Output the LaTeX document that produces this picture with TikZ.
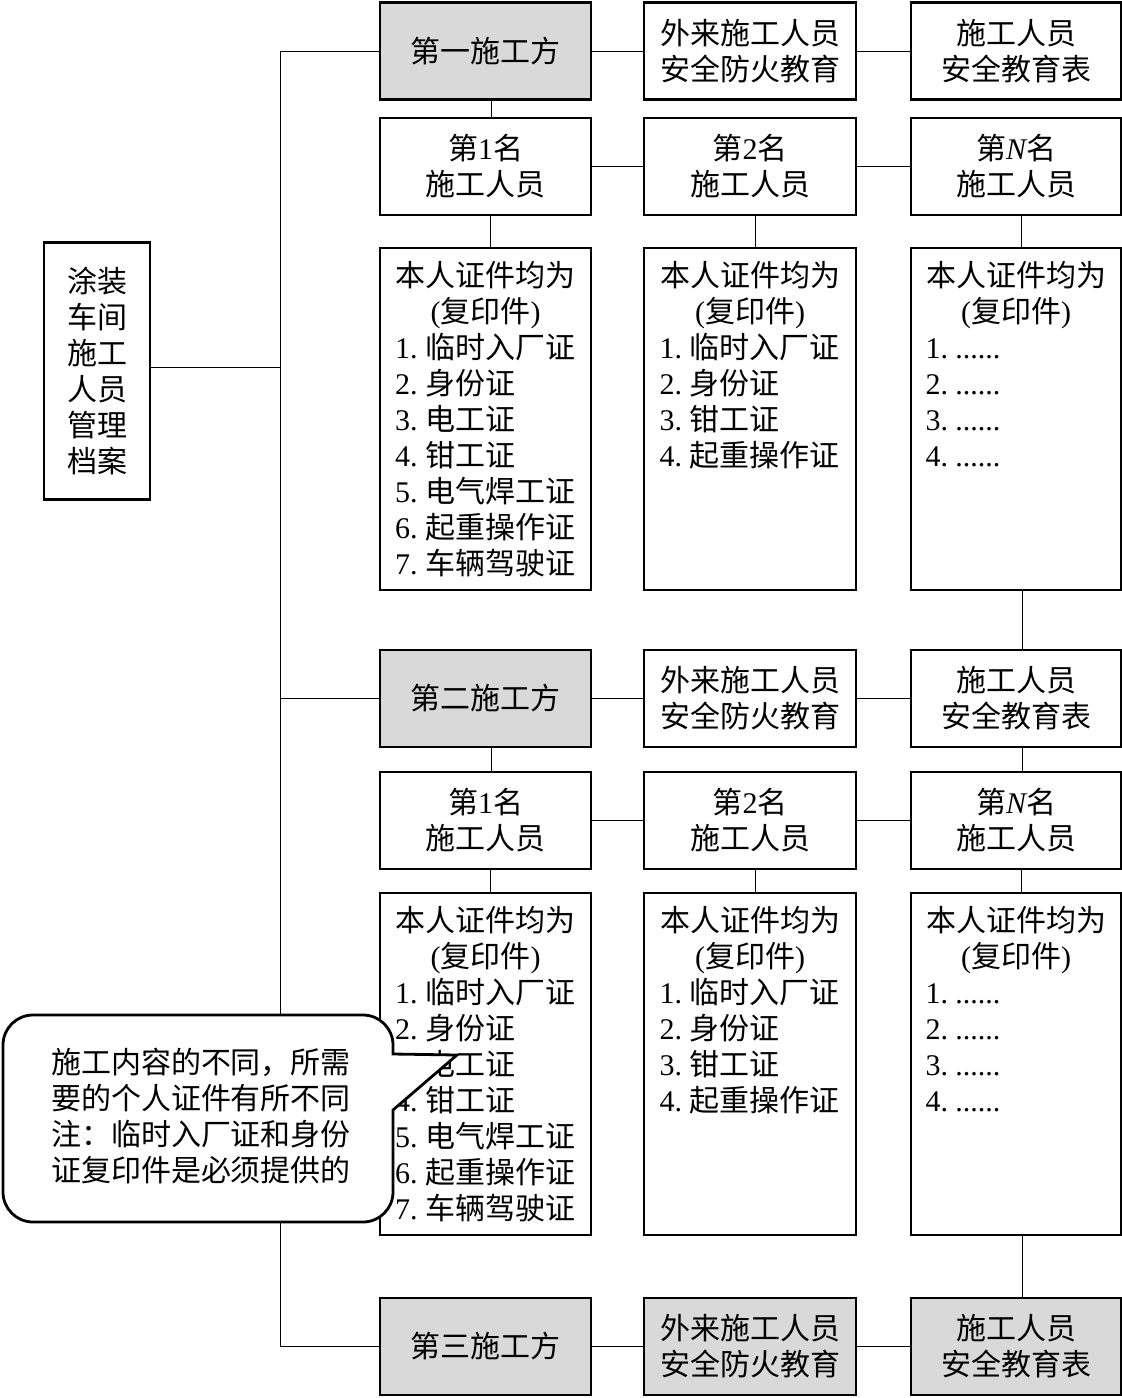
\documentclass[tikz,border=0pt]{standalone}
\usepackage{fontspec}
\setmainfont{Liberation Serif}
\newfontfamily\cjkf{Noto Sans CJK SC}
\newcommand\latn[1]{{\rmfamily #1}}
\newcommand\itm[2]{\mbox{\latn{#1.~}#2}}
\newcommand\bigcjk{\cjkf\fontsize{30}{36}\selectfont}
\newcommand\certbody[1]{\begin{minipage}[c][342pt][t]{181pt}\vspace*{13pt}\centering 本人证件均为\\\latn{(}复印件\latn{)}\par\raggedright #1\end{minipage}}
\tikzset{
  box/.style={draw, line width=2.5pt, minimum width=211, minimum height=97, inner sep=0pt, align=center, font=\bigcjk},
  graybox/.style={box, fill=black!15},
  certbox/.style={draw, line width=2.5pt, minimum width=211, minimum height=342, inner sep=0pt, font=\bigcjk},
  conn/.style={line width=1pt},
  callout/.style={draw, line width=2.8pt, fill=white}
}
\begin{document}
\begin{tikzpicture}[x=1pt,y=-1pt]
\useasboundingbox (0,0) rectangle (1122,1398);
% root
\node[box, minimum width=106, minimum height=257] (root) at (97,371) {涂装\\车间\\施工\\人员\\管理\\档案};
% row A
\node[graybox] (A1) at (485.5,51) {第一施工方};
\node[box, minimum width=212] (A2) at (750,51) {外来施工人员\\安全防火教育};
\node[box, minimum width=210] (A3) at (1016,51) {施工人员\\安全教育表};
% row B
\node[box] (B1) at (485.5,166.5) {第\latn{1}名\\施工人员};
\node[box, minimum width=212] (B2) at (750,166.5) {第\latn{2}名\\施工人员};
\node[box, minimum width=210] (B3) at (1016,166.5) {第\latn{\itshape N}名\\施工人员};
% row C
\node[certbox] (C1) at (485.5,419) {\certbody{\itm{1}{临时入厂证}\\\itm{2}{身份证}\\\itm{3}{电工证}\\\itm{4}{钳工证}\\\itm{5}{电气焊工证}\\\itm{6}{起重操作证}\\\itm{7}{车辆驾驶证}}};
\node[certbox, minimum width=212] (C2) at (750,419) {\certbody{\itm{1}{临时入厂证}\\\itm{2}{身份证}\\\itm{3}{钳工证}\\\itm{4}{起重操作证}}};
\node[certbox, minimum width=210] (C3) at (1016,419) {\certbody{\itm{1}{\latn{......}}\\\itm{2}{\latn{......}}\\\itm{3}{\latn{......}}\\\itm{4}{\latn{......}}}};
% row D
\node[graybox] (D1) at (485.5,698.5) {第二施工方};
\node[box, minimum width=212] (D2) at (750,698.5) {外来施工人员\\安全防火教育};
\node[box, minimum width=210] (D3) at (1016,698.5) {施工人员\\安全教育表};
% row E
\node[box] (E1) at (485.5,820.5) {第\latn{1}名\\施工人员};
\node[box, minimum width=212] (E2) at (750,820.5) {第\latn{2}名\\施工人员};
\node[box, minimum width=210] (E3) at (1016,820.5) {第\latn{\itshape N}名\\施工人员};
% row F
\node[certbox] (F1) at (485.5,1064) {\certbody{\itm{1}{临时入厂证}\\\itm{2}{身份证}\\\itm{3}{电工证}\\\itm{4}{钳工证}\\\itm{5}{电气焊工证}\\\itm{6}{起重操作证}\\\itm{7}{车辆驾驶证}}};
\node[certbox, minimum width=212] (F2) at (750,1064) {\certbody{\itm{1}{临时入厂证}\\\itm{2}{身份证}\\\itm{3}{钳工证}\\\itm{4}{起重操作证}}};
\node[certbox, minimum width=210] (F3) at (1016,1064) {\certbody{\itm{1}{\latn{......}}\\\itm{2}{\latn{......}}\\\itm{3}{\latn{......}}\\\itm{4}{\latn{......}}}};
% row G
\node[graybox] (G1) at (485.5,1346.5) {第三施工方};
\node[graybox, minimum width=212] (G2) at (750,1346.5) {外来施工人员\\安全防火教育};
\node[graybox, minimum width=210] (G3) at (1016,1346.5) {施工人员\\安全教育表};
% trunk
\coordinate (tA) at (280,51);
\coordinate (tR) at (280,367);
\coordinate (tD) at (280,698.5);
\coordinate (tG) at (280,1346.5);
\draw[conn] (tA) -- (tG);
\draw[conn] (root.east |- tR) -- (tR);
\draw[conn] (tA) -- (A1.west);
\draw[conn] (tD) -- (D1.west);
\draw[conn] (tG) -- (G1.west);
% horizontals
\foreach \r in {A,B,D,E,G}{
  \draw[conn] (\r1.east) -- (\r2.west);
  \draw[conn] (\r2.east) -- (\r3.west);
}
% verticals
\draw[conn] ([xshift=6pt]A1.south) -- ([xshift=6pt]B1.north);
\foreach \c in {1,2,3}{
  \draw[conn] ([xshift=5pt]B\c.south) -- ([xshift=5pt]C\c.north);
  \draw[conn] ([xshift=5pt]E\c.south) -- ([xshift=5pt]F\c.north);
}
\draw[conn] ([xshift=6pt]C3.south) -- ([xshift=6pt]D3.north);
\draw[conn] ([xshift=6pt]D1.south) -- ([xshift=6pt]E1.north);
\draw[conn] ([xshift=6pt]D3.south) -- ([xshift=6pt]E3.north);
\draw[conn] ([xshift=6pt]F3.south) -- ([xshift=6pt]G3.north);
% callout
\draw[callout] (33,1015) -- (363,1015) arc (270:360:30) -- (393,1054) -- (457,1055) -- (393,1110) -- (393,1192) arc (0:90:30) -- (33,1222) arc (90:180:30) -- (3,1045) arc (180:270:30) -- cycle;
\node[font=\bigcjk, align=left, inner sep=0pt] (note) at (201,1116) {施工内容的不同，所需\\要的个人证件有所不同\\注：临时入厂证和身份\\证复印件是必须提供的};
\end{tikzpicture}
\end{document}
